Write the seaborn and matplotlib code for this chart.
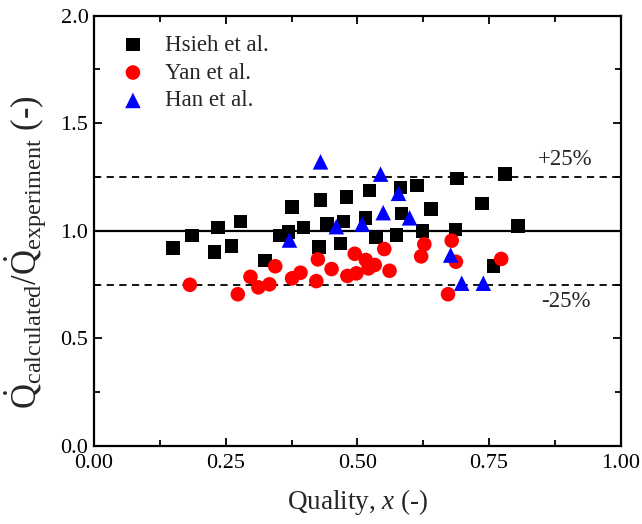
import numpy as np
import pandas as pd
import matplotlib
matplotlib.use("Agg")
import matplotlib.pyplot as plt
from matplotlib.ticker import MultipleLocator
import seaborn as sns

# Hsieh et al.
hsieh_x = [0.150, 0.186, 0.235, 0.278, 0.229, 0.261, 0.325, 0.376, 0.352, 0.369,
           0.398, 0.430, 0.479, 0.523, 0.582, 0.613, 0.689, 0.640, 0.584, 0.515,
           0.474, 0.442, 0.427, 0.468, 0.535, 0.574, 0.624, 0.686, 0.780, 0.737,
           0.805, 0.758]
hsieh_y = [0.921, 0.977, 1.014, 1.044, 0.901, 0.930, 0.861, 1.110, 0.977, 0.995,
           1.014, 1.143, 1.158, 1.186, 1.200, 1.211, 1.243, 1.101, 1.081, 1.058,
           1.044, 1.031, 0.924, 0.940, 0.969, 0.979, 1.000, 1.006, 1.263, 1.127,
           1.023, 0.837]

# Yan et al.
yan_x = [0.182, 0.273, 0.297, 0.312, 0.333, 0.344, 0.376, 0.392, 0.425, 0.451,
         0.495, 0.516, 0.533, 0.521, 0.551, 0.561, 0.498, 0.481, 0.422, 0.627,
         0.621, 0.679, 0.687, 0.672, 0.773]
yan_y = [0.749, 0.705, 0.786, 0.737, 0.751, 0.835, 0.779, 0.805, 0.867, 0.822,
         0.893, 0.864, 0.841, 0.825, 0.915, 0.814, 0.802, 0.790, 0.766, 0.937,
         0.881, 0.954, 0.856, 0.705, 0.869]

# Han et al.
han_x = [0.371, 0.430, 0.544, 0.578, 0.549, 0.599, 0.460, 0.509, 0.677, 0.698, 0.739]
han_y = [0.957, 1.320, 1.263, 1.174, 1.084, 1.060, 1.019, 1.031, 0.887, 0.756, 0.756]

series_names = ["Hsieh et al.", "Yan et al.", "Han et al."]
series_colors = ["black", "#ff0000", "#0000ff"]
series_markers = ["s", "o", "^"]
series_sizes = [95, 110, 125]

x_ticks = [0.00, 0.25, 0.50, 0.75, 1.00]
y_ticks = [0.0, 0.5, 1.0, 1.5, 2.0]
band = 0.25

sns.set_style("ticks")
plt.rcParams["font.family"] = ["Liberation Serif", "DejaVu Serif"]
plt.rcParams["mathtext.fontset"] = "custom"
plt.rcParams["mathtext.rm"] = "Liberation Serif"
plt.rcParams["mathtext.it"] = "Liberation Serif:italic"
plt.rcParams["mathtext.bf"] = "Liberation Serif:bold"

fig = plt.figure(figsize=(6.42, 5.24), dpi=100)
ax = fig.add_axes([0.1464, 0.1489, 0.8206, 0.8215])

frames = []
for name, xs, ys in zip(series_names, [hsieh_x, yan_x, han_x], [hsieh_y, yan_y, han_y]):
    frames.append(pd.DataFrame({"quality": xs, "ratio": ys, "source": name}))
df = pd.concat(frames, ignore_index=True)

# reference lines: perfect agreement and +/-25 % band
ax.axhline(1.0, color="black", lw=1.6, zorder=1)
ax.axhline(1.0 + band, color="black", lw=1.3, ls=(0, (4, 3)), zorder=1)
ax.axhline(1.0 - band, color="black", lw=1.3, ls=(0, (4, 3)), zorder=1)

for name, color, marker, size in zip(series_names, series_colors, series_markers, series_sizes):
    sub = df[df["source"] == name]
    sns.scatterplot(data=sub, x="quality", y="ratio", ax=ax, color=color,
                    marker=marker, s=size, edgecolor="none", linewidth=0,
                    label=name, zorder=3)

ax.set_xlim(0, 1.0)
ax.set_ylim(0, 2.0)
ax.set_xticks(x_ticks)
ax.set_xticklabels([f"{v:.2f}" for v in x_ticks])
ax.set_yticks(y_ticks)
ax.set_yticklabels([f"{v:.1f}" for v in y_ticks])
ax.xaxis.set_minor_locator(MultipleLocator(0.125))
ax.yaxis.set_minor_locator(MultipleLocator(0.25))
ax.tick_params(which="both", direction="in", top=True, right=True, width=1.3,
               labelsize=16, color="black", labelcolor="black")
ax.tick_params(axis="x", pad=6)
ax.tick_params(axis="y", pad=4)
ax.tick_params(which="major", length=6)
ax.tick_params(which="minor", length=4)
for sp in ax.spines.values():
    sp.set_linewidth(1.6)
    sp.set_color("black")

ax.set_xlabel(r"Quality, $\mathit{x}$ (-)", fontsize=19.5, labelpad=10)
ax.set_ylabel(r"$\dot{\mathrm{Q}}_{\mathrm{calculated}}/\dot{\mathrm{Q}}_{\mathrm{experiment}}$ (-)",
              fontsize=25)
ax.yaxis.set_label_coords(-0.088, 0.45)

ax.text(0.895, 1.0 + band + 0.08, "+25%", fontsize=16.5, ha="center", va="center")
ax.text(0.895, 1.0 - band - 0.08, "-25%", fontsize=16.5, ha="center", va="center")

leg = ax.legend(loc="upper left", frameon=False, fontsize=16.5, handletextpad=0.4,
                borderaxespad=0.0, labelspacing=0.3, markerscale=1.0,
                bbox_to_anchor=(0.013, 0.977))

fig.savefig("out.png", dpi=100, facecolor="white")
